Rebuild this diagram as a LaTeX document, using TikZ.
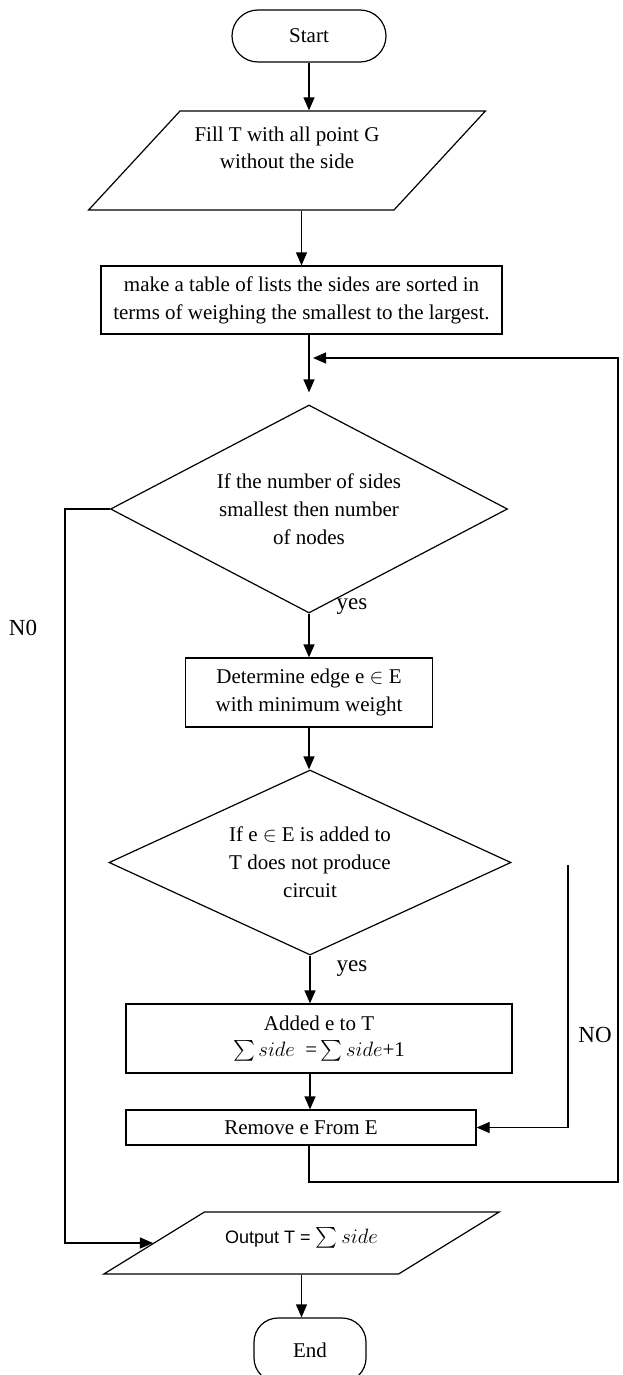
\documentclass[tikz,border=0pt]{standalone}
\usepackage{exscale}
\usepackage{fontspec}
\setmainfont{Liberation Serif}
\newfontfamily\outfont{Liberation Sans}
\usetikzlibrary{shapes,arrows.meta}

\begin{document}
\begin{tikzpicture}[x=1pt,y=-1pt,>={Triangle[width=11pt,length=13pt]},line width=1.2pt]
    \tikzstyle{every node}=[font=\fontsize{21}{28}\selectfont,line width=1.2pt]
    \tikzstyle{term}=[rectangle,draw,rounded corners=26pt,minimum width=154pt,minimum height=52pt]
    \tikzstyle{box}=[rectangle,draw,align=center,inner sep=0pt]
    \tikzstyle{io}=[trapezium,draw,align=center,trapezium stretches=true,inner sep=0pt]
    \tikzstyle{test}=[diamond,draw,align=center,inner sep=0pt]
    \tikzstyle{lbl}=[font=\fontsize{23}{28}\selectfont]
    \useasboundingbox (0,0) rectangle (622,1375);
    \node[term] (start) at (309,36) {Start};
    \node[io,trapezium left angle=51.4,trapezium right angle=128.6,minimum width=397pt,text height=58pt,text depth=41pt] (fill) at (287,160.5) {Fill T with all point G\\without the side};
    \node[box,minimum width=401pt,minimum height=68pt] (table) at (301.5,300) {make a table of lists the sides are sorted in\\terms of weighing the smallest to the largest.};
    \node[test,aspect=1.91,minimum width=397pt,minimum height=208pt] (d1) at (309,509) {If the number of sides\\smallest then number\\of nodes};
    \node[box,minimum width=247pt,minimum height=69pt] (det) at (309,692.5) {Determine edge e $\in$ E\\with minimum weight};
    \node[test,aspect=2.17,minimum width=402pt,minimum height=185pt] (d2) at (310,862.5) {If e $\in$ E is added to\\T does not produce\\circuit};
    \node[box,minimum width=386pt,minimum height=69pt] (added) at (319,1038.5) {Added e to T\\[-2pt]$\sum side$\ \ =\,$\sum side$+1};
    \node[box,minimum width=350pt,minimum height=35pt] (remove) at (301,1127.5) {Remove e From E};
    \node[io,trapezium left angle=38.1,trapezium right angle=141.9,minimum width=397pt,text height=31pt,text depth=31pt] (out) at (301.5,1243) {{\outfont\fontsize{18}{28}\selectfont Output T =} $\sum side$};
    \node[term,minimum width=112pt,minimum height=64pt,rounded corners=24pt] (end) at (310,1350) {End};
    \node[lbl] (yes1) at (352,607) {yes};
    \node[lbl] (yes2) at (352,969) {yes};
    \node[lbl] (no1) at (23,628) {N0};
    \node[lbl] (no2) at (595,1035) {NO};
    \coordinate (back) at (313,358);
    \coordinate (nogo) at (568,865);
    \draw[->] (start.south) -- (start.south |- fill.north);
    \draw[->] (fill.south -| table) -- (table.north);
    \draw[->,shorten >=12pt] (table.south -| d1) -- (d1.north);
    \draw[->] (d1.south) -- (det.north);
    \draw[->] (det.south) -- (det.south |- d2.north);
    \draw[->] (d2.south) -- (d2.south |- added.north);
    \draw[->] (added.south -| d2) -- (d2 |- remove.north);
    \draw[->] (nogo) |- (remove.east);
    \draw[->] (d1 |- remove.south) |- (618,1182) |- (back);
    \draw[->] (d1.west) -- (65,509) |- (out);
    \draw[->] (out.south) -- (out.south |- end.north);
\end{tikzpicture}
\end{document}
